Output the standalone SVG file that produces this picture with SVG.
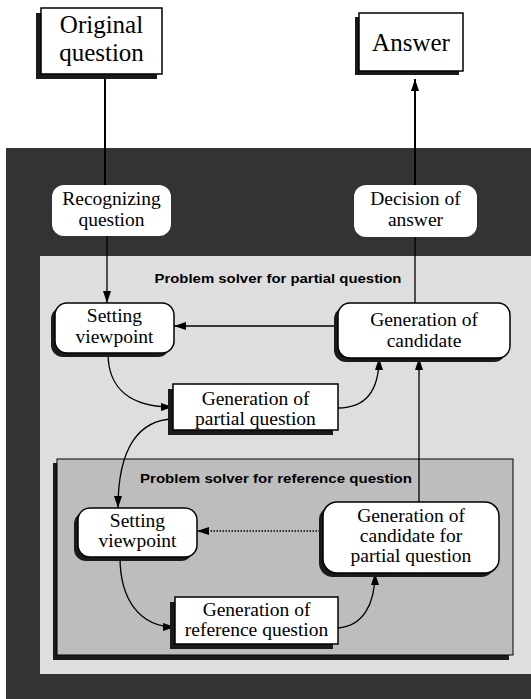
<svg xmlns="http://www.w3.org/2000/svg" width="531" height="699" viewBox="0 0 531 699">
  <defs>
    <marker id="arrow" viewBox="0 0 12 8" refX="12" refY="4" markerWidth="12" markerHeight="8" markerUnits="userSpaceOnUse" orient="auto">
      <path d="M0,0 L12,4 L0,8 Z" fill="#000"/>
    </marker>
    <style>
      .frame { fill: #333; }
      .outer { fill: #dedede; }
      .inner { fill: #bdbdbd; stroke: #000; stroke-width: 1; }
      .shadow { fill: #1a1a1a; }
      .box { fill: #fff; stroke: #000; stroke-width: 1.5; }
      .plain { fill: #fff; stroke: none; }
      .label { font-family: "Liberation Serif", "Times New Roman", serif; font-size: 19.5px; fill: #000; text-anchor: middle; }
      .big { font-size: 25px; }
      .title { font-family: "Liberation Sans", Arial, sans-serif; font-weight: bold; font-size: 13px; fill: #000; text-anchor: middle; }
      .wire { fill: none; stroke: #000; stroke-width: 1.3; }
      .thick { stroke-width: 2; }
      .dotted { stroke-dasharray: 1.5 1.5; }
    </style>
  </defs>

  <!-- backgrounds: dark outer frame, light partial-question area, reference-question area -->
  <rect class="frame" x="6" y="148" width="525" height="551"/>
  <rect class="outer" x="40" y="256" width="491" height="418"/>
  <text class="title" x="278" y="283" textLength="247" lengthAdjust="spacingAndGlyphs">Problem solver for partial question</text>
  <rect class="shadow" x="53" y="463" width="456" height="197"/>
  <rect class="inner" x="57" y="459" width="456" height="196"/>
  <text class="title" x="276" y="483" textLength="272" lengthAdjust="spacingAndGlyphs">Problem solver for reference question</text>

  <!-- connectors -->
  <g id="connectors">
    <line class="wire thick" x1="105" y1="74" x2="105" y2="185"/>
    <line class="wire thick" x1="415" y1="185" x2="415" y2="79" marker-end="url(#arrow)"/>
    <line class="wire" x1="107" y1="236" x2="107" y2="303" marker-end="url(#arrow)"/>
    <line class="wire" x1="415" y1="237" x2="415" y2="303"/>
    <line class="wire" x1="338" y1="326" x2="174" y2="326" marker-end="url(#arrow)"/>
    <path class="wire" d="M108,353 C108,390 132,407 173,407" marker-end="url(#arrow)"/>
    <path class="wire" d="M338,408 C366,408 379,390 379,358" marker-end="url(#arrow)"/>
    <path class="wire" d="M173,419 C140,420 118,446 118,508" marker-end="url(#arrow)"/>
    <line class="wire" x1="419" y1="502" x2="419" y2="358" marker-end="url(#arrow)"/>
    <line class="wire dotted" x1="323" y1="531" x2="197" y2="531" marker-end="url(#arrow)"/>
    <path class="wire" d="M120,557 C120,600 140,627 175,627" marker-end="url(#arrow)"/>
    <path class="wire" d="M338,628 C362,626 375,606 375,573" marker-end="url(#arrow)"/>
  </g>

  <g id="original-question">
    <rect class="shadow" x="36" y="13" width="121" height="66"/>
    <rect class="box" x="41" y="8" width="121" height="66"/>
    <text class="label big" x="101.5" y="33">Original</text>
    <text class="label big" x="101.5" y="61">question</text>
  </g>

  <g id="answer">
    <rect class="shadow" x="355" y="17" width="104" height="58"/>
    <rect class="box" x="359" y="13" width="104" height="58"/>
    <text class="label big" x="411" y="51">Answer</text>
  </g>

  <g id="recognizing-question">
    <rect class="plain" x="52" y="185" width="119" height="51" rx="12"/>
    <text class="label" x="111.5" y="205">Recognizing</text>
    <text class="label" x="111.5" y="226">question</text>
  </g>

  <g id="decision-of-answer">
    <rect class="plain" x="354" y="185" width="123" height="52" rx="12"/>
    <text class="label" x="415.5" y="205">Decision of</text>
    <text class="label" x="415.5" y="226">answer</text>
  </g>

  <g id="setting-viewpoint-partial">
    <rect class="shadow" x="51" y="307" width="119" height="50" rx="12"/>
    <rect class="box" x="55" y="303" width="119" height="50" rx="12"/>
    <text class="label" x="114.5" y="322">Setting</text>
    <text class="label" x="114.5" y="343">viewpoint</text>
  </g>

  <g id="generation-of-candidate">
    <rect class="shadow" x="334" y="307" width="172" height="55" rx="12"/>
    <rect class="box" x="338" y="303" width="172" height="55" rx="12"/>
    <text class="label" x="424" y="326">Generation of</text>
    <text class="label" x="424" y="347">candidate</text>
  </g>

  <g id="generation-of-partial-question">
    <rect class="shadow" x="168" y="389" width="165" height="46"/>
    <rect class="box" x="173" y="384" width="165" height="46"/>
    <text class="label" x="255.5" y="405">Generation of</text>
    <text class="label" x="255.5" y="425">partial question</text>
  </g>

  <g id="setting-viewpoint-reference">
    <rect class="shadow" x="74" y="512" width="119" height="49" rx="12"/>
    <rect class="box" x="78" y="508" width="119" height="49" rx="12"/>
    <text class="label" x="137.5" y="527">Setting</text>
    <text class="label" x="137.5" y="547">viewpoint</text>
  </g>

  <g id="generation-of-candidate-for-partial-question">
    <rect class="shadow" x="319" y="506" width="176" height="71" rx="14"/>
    <rect class="box" x="323" y="502" width="176" height="71" rx="14"/>
    <text class="label" x="411" y="522">Generation of</text>
    <text class="label" x="411" y="542">candidate for</text>
    <text class="label" x="411" y="562">partial question</text>
  </g>

  <g id="generation-of-reference-question">
    <rect class="shadow" x="170" y="602" width="163" height="47"/>
    <rect class="box" x="175" y="597" width="163" height="47"/>
    <text class="label" x="256.5" y="616">Generation of</text>
    <text class="label" x="256.5" y="636">reference question</text>
  </g>
</svg>
